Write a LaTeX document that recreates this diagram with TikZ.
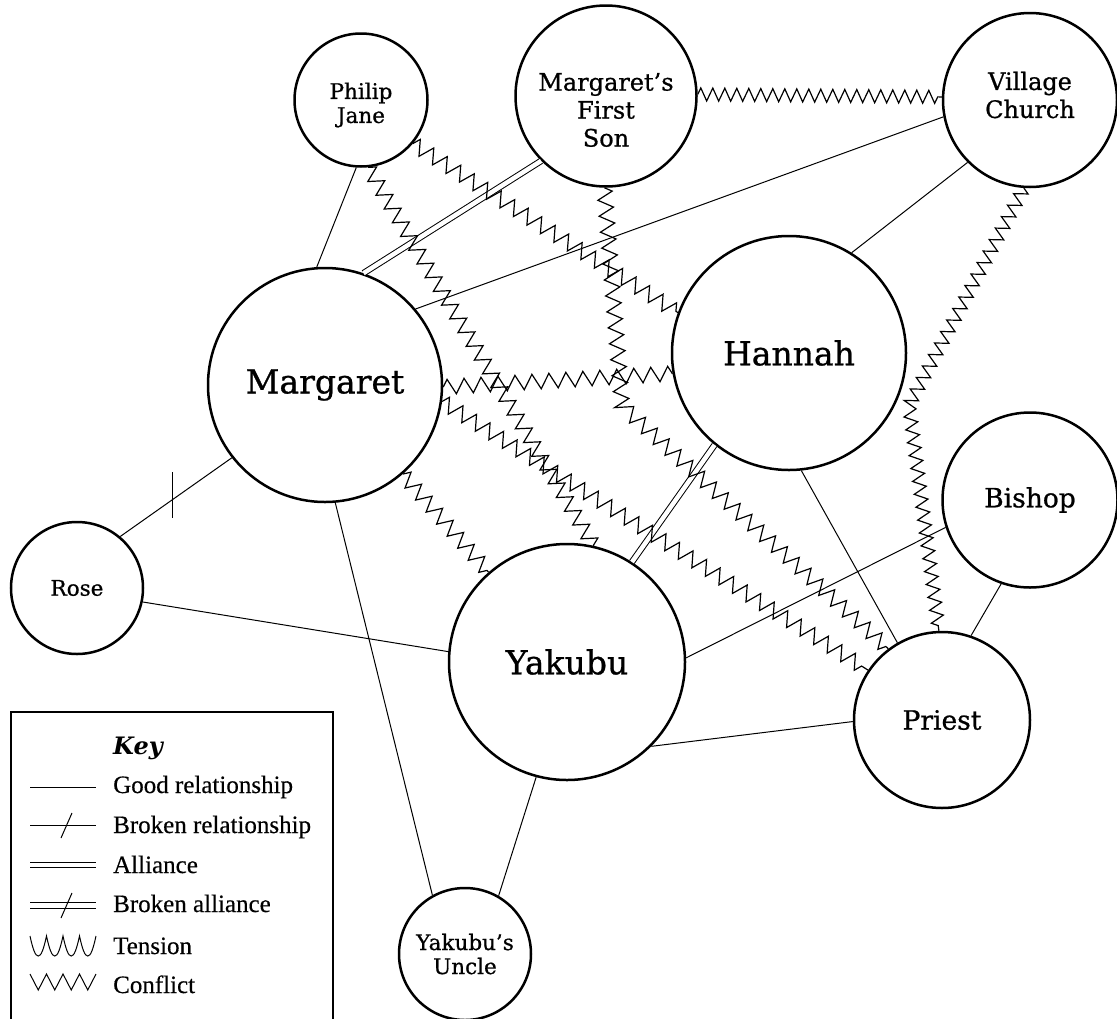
\documentclass[tikz,border=0pt]{standalone}
\usepackage{fontspec}
\setmainfont{DejaVu Serif}
\newfontfamily\nodefont{DejaVu Serif}[FakeBold=0.8]
\newfontfamily\keyfont{Liberation Serif}[FakeBold=0.4]
\usetikzlibrary{decorations.pathmorphing}
\begin{document}
\begin{tikzpicture}[x=1pt,y=-1pt,
  person/.style={circle, draw, line width=2.5pt, inner sep=0pt, align=center},
  bigname/.style={font=\nodefont\fontsize{33}{33}\selectfont},
  midname/.style={font=\nodefont\fontsize{26.5}{28}\selectfont},
  medname/.style={font=\nodefont\fontsize{24}{28}\selectfont},
  smallname/.style={font=\nodefont\fontsize{21.5}{24}\selectfont},
  good/.style={line width=1pt},
  conflict/.style={line width=1.2pt, decorate, decoration={zigzag, amplitude=7.5pt, segment length=16pt}},
  alliance/.style={double, double distance=4.5pt, line width=1pt},
  keytext/.style={anchor=base west, inner sep=0pt, font=\keyfont\fontsize{25}{25}\selectfont},
  keyline/.style={line width=1pt}
]
\useasboundingbox (0,0) rectangle (1117,1018);

% people
\node[person, minimum size=133pt, label={[smallname, align=center, yshift=-5pt]center:Philip\\Jane}] (PJ) at (361,100) {};
\node[person, minimum size=181pt, label={[medname, align=center, yshift=-14pt]center:Margaret’s\\First\\Son}] (MFS) at (606,96) {};
\node[person, minimum size=174pt, label={[medname, align=center, yshift=5pt]center:Village\\Church}] (VC) at (1030,100) {};
\node[person, bigname, minimum size=234pt] (M) at (325,385) {Margaret};
\node[person, bigname, minimum size=234pt] (H) at (789,353) {Hannah};
\node[person, midname, minimum size=175pt] (B) at (1030,500) {Bishop};
\node[person, smallname, minimum size=132pt] (R) at (77,588) {Rose};
\node[person, bigname, minimum size=236pt] (Y) at (567,662) {Yakubu};
\node[person, midname, minimum size=176pt] (P) at (942,720) {Priest};
\node[person, smallname, minimum size=132pt] (U) at (465,954) {Yakubu’s\\Uncle};

% good relationships
\draw[good] (PJ.266.5) -- (M.94);
\draw[good] (M.40.5) -- (VC.191.7);
\draw[good] (H.58.3) -- (VC.225);
\draw[good] (H.276.8) -- (P.120.3);
\draw[good] (Y.2.4) -- (B.198.2);
\draw[good] (B.251.8) -- (P.71.8);
\draw[good] (R.-12) -- (Y.175.6);
\draw[good] (M.275.8) -- (U.119.2);
\draw[good] (Y.255.4) -- (U.60.8);
\draw[good] (Y.-45.7) -- (P.181);

% broken relationship
\draw[good] (R.50.3) -- (M.218.1);
\coordinate (t1) at (172,472);
\coordinate (t2) at (172,518);
\draw[good] (t1) -- (t2);

% alliances
\draw[alliance] (M.71.9) -- (MFS.225.4);
\draw[alliance] (H.231.9) -- (Y.57.2);

% conflicts
\coordinate (b1) at (622,406);
\coordinate (b2) at (909,405);
\draw[conflict, decoration={segment length=12pt, amplitude=6.5pt}] (MFS.1.3) -- (VC.178.7);
\draw[conflict] (PJ.-40.1) -- (H.160.2);
\draw[conflict] (PJ.-84) -- (Y.77.3);
\draw[conflict, decoration={segment length=17pt, amplitude=7.5pt}] (M.-1) -- (H.190);
\draw[conflict] (M.-8.7) -- (P.146.8);
\draw[conflict] (M) -- (Y);
\draw[conflict] (MFS.269.4) -- (b1) -- (P.127.6);
\draw[conflict, decoration={segment length=13pt, amplitude=6.5pt}] (VC.266.7) -- (b2) -- (P.92.5);

% key
\draw[line width=2.5pt] (11,1030) -- (11,712) -- (333,712) -- (333,1030);
\node[keytext, font=\fontsize{24}{24}\selectfont\bfseries\itshape] (kt) at (113,754) {Key};
\node[keytext] (k1) at (113,793) {Good relationship};
\node[keytext] (k2) at (113,833) {Broken relationship};
\node[keytext] (k3) at (113,873) {Alliance};
\node[keytext] (k4) at (113,912) {Broken alliance};
\node[keytext] (k5) at (113,954) {Tension};
\node[keytext] (k6) at (113,993) {Conflict};

\draw[keyline] (30,787) -- (96,787);
\draw[keyline] (30,825) -- (96,825);
\draw[keyline] (72,813) -- (61,838);
\draw[keyline] (30,862) -- (96,862);
\draw[keyline] (30,867) -- (96,867);
\draw[keyline] (30,902) -- (96,902);
\draw[keyline] (30,908) -- (96,908);
\draw[keyline] (72,893) -- (61,918);
\draw[keyline] (30,936)
  .. controls (33,950) and (35.5,956) .. (38.25,956) .. controls (41,956) and (43.5,950) .. (46.5,936)
  .. controls (49.5,950) and (52,956) .. (54.75,956) .. controls (57.5,956) and (60,950) .. (63,936)
  .. controls (66,950) and (68.5,956) .. (71.25,956) .. controls (74,956) and (76.5,950) .. (79.5,936)
  .. controls (82.5,950) and (85,956) .. (87.75,956) .. controls (90.5,956) and (93,950) .. (96,936);
\draw[keyline] (30,974) -- (38.25,990) -- (46.5,974) -- (54.75,990) -- (63,974) -- (71.25,990) -- (79.5,974) -- (87.75,990) -- (96,974);
\end{tikzpicture}
\end{document}
